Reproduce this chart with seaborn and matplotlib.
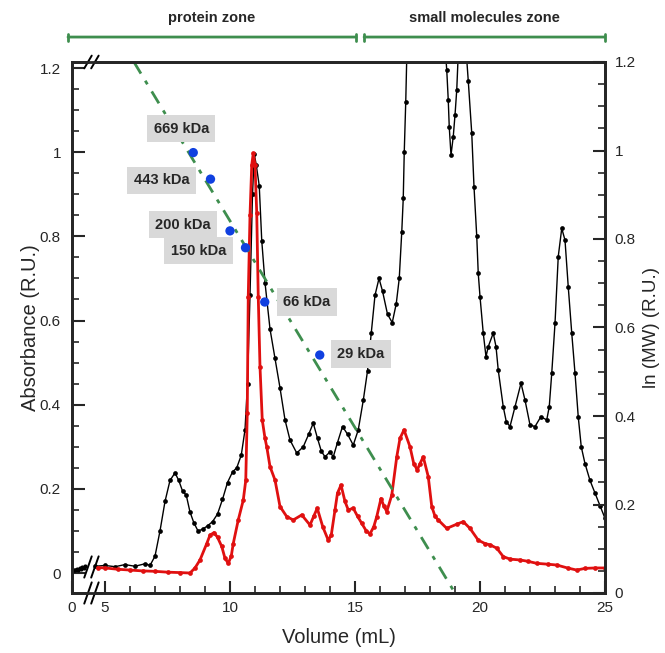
import numpy as np
import matplotlib
matplotlib.use("Agg")
import matplotlib.pyplot as plt
from matplotlib.patches import Rectangle
from matplotlib.ticker import FixedLocator, FuncFormatter
import seaborn as sns

sns.set_style("ticks")
plt.rcParams['font.family'] = ['Liberation Sans', 'DejaVu Sans']

# elution profile before the axis break (mL, R.U.)
black_pre_x = [0.0, 0.3, 0.6, 0.9, 1.2, 1.5, 1.8, 2.1, 2.4, 2.6]
black_pre_y = [0.005, 0.008, 0.006, 0.010, 0.007, 0.012, 0.009, 0.014, 0.011, 0.016]

# black trace (mL, absorbance R.U.)
black_x = [4.6, 5.0, 5.4, 5.8, 6.2, 6.6, 6.8, 7.0, 7.2, 7.4, 7.6, 7.8, 7.95, 8.1, 8.25,
           8.4, 8.55, 8.72, 8.9, 9.1, 9.3, 9.5, 9.7, 9.9, 10.1, 10.27, 10.45, 10.6, 10.7,
           10.8, 10.9, 10.97, 11.05, 11.17, 11.27, 11.4, 11.6, 11.8, 12.0, 12.2, 12.4,
           12.67, 12.93, 13.15, 13.33, 13.5, 13.65, 13.8, 14.0, 14.13, 14.3, 14.5, 14.7,
           14.93, 15.13, 15.33, 15.5, 15.65, 15.8, 15.96, 16.1, 16.3, 16.49, 16.65, 16.77,
           16.87, 16.93, 16.97, 17.03, 17.08, 17.5, 18.2, 18.64, 18.67, 18.73, 18.77,
           18.84, 18.93, 19.0, 19.07, 19.12, 19.3, 19.47, 19.53, 19.67, 19.76, 19.87,
           19.93, 20.0, 20.13, 20.24, 20.33, 20.53, 20.64, 20.73, 20.93, 21.05, 21.2,
           21.4, 21.64, 21.8, 22.0, 22.2, 22.43, 22.67, 22.77, 22.87, 23.0, 23.13, 23.27,
           23.4, 23.53, 23.67, 23.8, 23.93, 24.05, 24.2, 24.4, 24.6, 24.8, 25.0]
black_y = [0.016, 0.018, 0.015, 0.020, 0.016, 0.022, 0.018, 0.040, 0.100, 0.170, 0.220,
           0.238, 0.220, 0.195, 0.185, 0.145, 0.120, 0.100, 0.104, 0.112, 0.122, 0.140,
           0.175, 0.215, 0.240, 0.250, 0.280, 0.340, 0.450, 0.660, 0.900, 0.995, 0.970,
           0.920, 0.790, 0.690, 0.580, 0.510, 0.440, 0.364, 0.316, 0.285, 0.300, 0.330,
           0.356, 0.320, 0.290, 0.276, 0.288, 0.276, 0.310, 0.348, 0.330, 0.304, 0.340,
           0.410, 0.480, 0.570, 0.660, 0.700, 0.670, 0.615, 0.595, 0.640, 0.700, 0.810,
           0.890, 1.000, 1.120, 1.250, 1.800, 1.600, 1.220, 1.195, 1.124, 1.060, 0.993,
           1.037, 1.088, 1.148, 1.220, 1.350, 1.220, 1.170, 1.045, 0.918, 0.800, 0.712,
           0.657, 0.570, 0.514, 0.538, 0.570, 0.538, 0.482, 0.395, 0.360, 0.348, 0.395,
           0.451, 0.411, 0.352, 0.348, 0.371, 0.364, 0.395, 0.475, 0.593, 0.752, 0.819,
           0.791, 0.680, 0.570, 0.475, 0.371, 0.300, 0.260, 0.220, 0.190, 0.160, 0.130]

# red trace (mL, absorbance R.U.)
red_x = [4.7, 5.0, 5.5, 6.0, 6.5, 7.0, 7.5, 8.0, 8.4, 8.6, 8.8, 9.07, 9.2, 9.36, 9.5,
         9.67, 9.8, 9.93, 10.05, 10.13, 10.33, 10.53, 10.63, 10.69, 10.73, 10.8, 10.87,
         10.93, 11.0, 11.07, 11.13, 11.2, 11.29, 11.4, 11.47, 11.6, 11.8, 12.0, 12.27,
         12.53, 12.87, 13.2, 13.35, 13.49, 13.71, 13.93, 14.05, 14.2, 14.3, 14.44, 14.6,
         14.73, 14.93, 15.1, 15.27, 15.45, 15.6, 15.75, 15.87, 16.04, 16.15, 16.27, 16.47,
         16.67, 16.8, 16.96, 17.2, 17.35, 17.49, 17.6, 17.73, 17.93, 18.07, 18.2, 18.33,
         18.67, 19.07, 19.33, 19.6, 19.93, 20.2, 20.4, 20.67, 20.93, 21.2, 21.6, 21.9,
         22.27, 22.7, 23.07, 23.5, 23.87, 24.2, 24.6, 25.0]
red_y = [0.013, 0.012, 0.009, 0.007, 0.005, 0.004, 0.002, 0.001, 0.000, 0.012, 0.031,
         0.070, 0.090, 0.096, 0.085, 0.063, 0.035, 0.023, 0.040, 0.070, 0.126, 0.173,
         0.220, 0.380, 0.657, 0.850, 0.970, 0.997, 0.970, 0.855, 0.657, 0.490, 0.364,
         0.320, 0.300, 0.253, 0.221, 0.158, 0.134, 0.126, 0.138, 0.114, 0.135, 0.154,
         0.110, 0.078, 0.090, 0.150, 0.190, 0.209, 0.170, 0.150, 0.154, 0.135, 0.118,
         0.100, 0.093, 0.110, 0.134, 0.177, 0.160, 0.146, 0.185, 0.276, 0.320, 0.340,
         0.300, 0.260, 0.245, 0.260, 0.276, 0.229, 0.158, 0.135, 0.126, 0.106, 0.116,
         0.122, 0.106, 0.078, 0.070, 0.067, 0.059, 0.039, 0.033, 0.031, 0.028, 0.023,
         0.021, 0.019, 0.012, 0.007, 0.011, 0.012, 0.012]

# calibration standards
std_labels = ['669 kDa', '443 kDa', '200 kDa', '150 kDa', '66 kDa', '29 kDa']
std_x = [8.53, 9.22, 10.0, 10.62, 11.39, 13.59]
std_y = [0.999, 0.936, 0.813, 0.773, 0.644, 0.518]
# label offsets (pixels) relative to each standard
std_off = [(-12, 24), (-49, -1), (-47, 6), (-47, -3), (42, 0), (41, 1)]

# calibration fit line
fit_x = [6.15, 19.0]
fit_y = [1.215, -0.0475]

GREEN = '#3e8e4e'
X0, BRK = 3.68, 4.6


def fwd(x):
    x = np.asarray(x, dtype=float)
    return np.where(x < BRK, X0 + x * (BRK - X0) / BRK, x)


def inv(u):
    u = np.asarray(u, dtype=float)
    return np.where(u < BRK, (u - X0) * BRK / (BRK - X0), u)


fig = plt.figure(figsize=(6.65, 6.53), dpi=100)
ax = fig.add_axes([72 / 665, 1 - 593 / 653, 533 / 665, 531 / 653])
ax.set_xscale('function', functions=(fwd, inv))
ax2 = ax.twinx()

sns.lineplot(x=black_pre_x, y=black_pre_y, ax=ax, color='black', lw=1.0,
             marker='o', markersize=3, markeredgewidth=0)
sns.lineplot(x=black_x, y=black_y, ax=ax, color='black', lw=1.0,
             marker='o', markersize=3.4, markeredgewidth=0)
sns.lineplot(x=red_x, y=red_y, ax=ax, color='#e01010', lw=2.0,
             marker='o', markersize=3.4, markeredgewidth=0)
sns.lineplot(x=fit_x, y=fit_y, ax=ax, color=GREEN, lw=2,
             linestyle=(0, (5, 3, 1.5, 3)))
sns.scatterplot(x=std_x, y=std_y, ax=ax, color='#1040e0', s=45, edgecolor='none',
                zorder=5)

for lab, xx, yy, off in zip(std_labels, std_x, std_y, std_off):
    ax.annotate(lab, (xx, yy), xytext=off, textcoords='offset pixels',
                ha='center', va='center', fontsize=10.5, fontweight='bold',
                bbox=dict(boxstyle='square,pad=0.45', fc='#d9d9d9', ec='none'))

ax.set_xlim(0, 25)
ax.set_ylim(-0.0475, 1.2143)
ax2.set_ylim(0, 1.2)

fmt = FuncFormatter(lambda v, p: '%g' % round(v, 2))
ax.xaxis.set_major_locator(FixedLocator([0, 5, 10, 15, 20, 25]))
ax.xaxis.set_minor_locator(FixedLocator([v for v in range(6, 25) if v % 5]))
ax.yaxis.set_major_locator(FixedLocator(np.arange(0, 1.21, 0.2)))
ax.yaxis.set_minor_locator(FixedLocator(np.arange(0, 1.21, 0.05)))
ax2.yaxis.set_major_locator(FixedLocator(np.arange(0, 1.21, 0.2)))
ax2.yaxis.set_minor_locator(FixedLocator(np.arange(0, 1.21, 0.05)))
ax.yaxis.set_major_formatter(fmt)
ax2.yaxis.set_major_formatter(fmt)

for a in (ax, ax2):
    a.tick_params(which='major', direction='in', length=9, width=1.5, labelsize=11)
    a.tick_params(which='minor', direction='in', length=5, width=1.2)
    for s in a.spines.values():
        s.set_linewidth(2)
        s.set_visible(True)
ax.tick_params(axis='x', which='major', pad=6)
ax.tick_params(axis='y', which='major', pad=8)
ax2.tick_params(axis='y', which='major', pad=7)

ax.set_xlabel('Volume (mL)', fontsize=14.5, labelpad=9)
ax.set_ylabel('Absorbance (R.U.)', fontsize=14.5, labelpad=0)
ax2.set_ylabel('ln (MW) (R.U.)', fontsize=13.5, labelpad=5)

# axis break marks
tr = ax.transAxes
for yb, h in [(0.0, 0.02), (1.0, 0.012), (0.049, 0.02)]:
    if yb in (0.0, 1.0):
        ax.add_patch(Rectangle((0.031, yb - 0.006), 0.011, 0.012, transform=tr,
                               fc='white', ec='none', clip_on=False, zorder=6))
    for xb in (0.030, 0.043):
        ax.plot([xb - 0.007, xb + 0.007], [yb - h, yb + h], transform=tr,
                color='black', lw=1.4, clip_on=False, zorder=7)

# zone brackets on top
for x0, x1, lab in [(-0.0075, 0.533, 'protein zone'), (0.548, 1.0, 'small molecules zone')]:
    ax.annotate('', xy=(x0, 1.047), xytext=(x1, 1.047), xycoords=tr, textcoords=tr,
                arrowprops=dict(arrowstyle='|-|,widthA=0.25,widthB=0.25', color=GREEN,
                                lw=2, shrinkA=0, shrinkB=0))
    ax.text((x0 + x1) / 2, 1.083, lab, transform=tr, ha='center', va='center',
            fontsize=10.5, fontweight='bold')

fig.savefig('out.png', dpi=100)
